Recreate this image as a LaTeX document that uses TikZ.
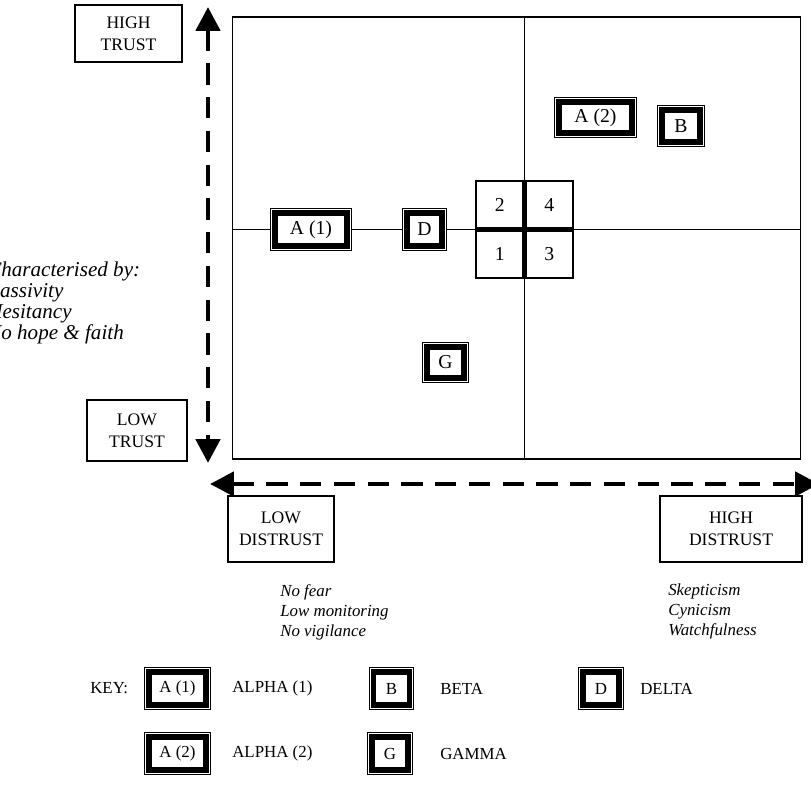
\documentclass[tikz,border=0pt]{standalone}
\usepackage{fontspec}
\setmainfont{Liberation Serif}
\usetikzlibrary{arrows.meta,positioning}

\tikzset{
  every node/.append style={font=\fontsize{12}{14.2}\selectfont},
  tag/.style={draw, line width=0.8pt, align=center, inner sep=0pt, font=\fontsize{12.5}{15.5}\selectfont},
  dbox/.style={draw, fill=white, line width=3.9pt, inner sep=0pt, minimum height=0.82cm,
    preaction={draw, line width=7.3pt}, preaction={draw, white, line width=5.9pt}},
  big/.style={font=\fontsize{14}{16}\selectfont},
  cell/.style={draw, fill=white, line width=1.8pt, minimum size=1.175cm, inner sep=0pt, big},
  axis/.style={line width=3.5pt, dash pattern=on 15pt off 9pt,
    {Triangle[length=17pt,width=17pt]}-{Triangle[length=17pt,width=17pt]}},
  note/.style={align=left, inner sep=0pt, font=\fontsize{12}{14.2}\selectfont\itshape},
}

\begin{document}
\begin{tikzpicture}[x=0.025cm, y=-0.025cm]
    \useasboundingbox (0,0) rectangle (811,789);
    % quadrant frame
    \node[draw, line width=0.8pt, minimum width=14.175cm, minimum height=11.05cm, inner sep=0pt] (frame) at (516.5,238) {};
    \coordinate (mid) at (524.5,229.5);
    \draw[line width=0.8pt] (frame.west |- mid) -- (frame.east |- mid);
    \draw[line width=0.8pt] (frame.north -| mid) -- (frame.south -| mid);

    % axes
    \coordinate (ytop) at (208,7);
    \coordinate (ybot) at (208,463);
    \coordinate (xleft) at (210,484);
    \coordinate (xright) at (819,484);
    \draw[axis] (ytop) -- (ybot);
    \draw[axis] (xleft) -- (xright);

    \node[tag, minimum width=2.675cm, minimum height=1.425cm] (hightrust) at (128.5,33.5) {HIGH\\TRUST};
    \node[tag, minimum width=2.5cm, minimum height=1.525cm] (lowtrust) at (137,430.5) {LOW\\TRUST};
    \node[tag, minimum width=2.65cm, minimum height=1.65cm] (lowdistrust) at (281,529) {LOW\\DISTRUST};
    \node[tag, minimum width=3.55cm, minimum height=1.65cm] (highdistrust) at (731,529) {HIGH\\DISTRUST};

    \node[note, font=\fontsize{15}{14.9}\selectfont\itshape, anchor=north west] (trustnote) at (-13,262) {Characterised by:\\Passivity\\Hesitancy\\No hope \& faith};
    \node[note, anchor=north west] (lownote) at (280,584) {No fear\\Low monitoring\\No vigilance};
    \node[note, anchor=north west] (highnote) at (668,584) {Skepticism\\Cynicism\\Watchfulness};

    % groups in the plane
    \node[cell, anchor=south east] (c2) at (mid) {2};
    \node[cell, anchor=south west] (c4) at (mid) {4};
    \node[cell, anchor=north east] (c1) at (mid) {1};
    \node[cell, anchor=north west] (c3) at (mid) {3};
    \node[dbox, big, minimum width=1.79cm] (alpha1) at (311,229.5) {A (1)};
    \node[dbox, big, minimum width=0.87cm] (delta) at (424.5,229.5) {D};
    \node[dbox, big, minimum width=1.82cm, minimum height=0.77cm] (alpha2) at (595.5,117.5) {A (2)};
    \node[dbox, big, minimum width=0.94cm, minimum height=0.79cm] (beta) at (681,126) {B};
    \node[dbox, big, minimum width=0.92cm, minimum height=0.77cm] (gamma) at (445.5,362.5) {G};

    % key
    \node[anchor=west, inner sep=0pt] (key) at (90,688.5) {KEY:};
    \node[dbox, minimum width=1.42cm] (kalpha1) at (177.5,688.5) {A (1)};
    \node[anchor=west, inner sep=0pt] (talpha1) at (232,688.5) {ALPHA (1)};
    \node[dbox, minimum width=0.89cm] (kbeta) at (391.5,688.5) {B};
    \node[anchor=west, inner sep=0pt] (tbeta) at (440,688.5) {BETA};
    \node[dbox, minimum width=0.89cm] (kdelta) at (601,688.5) {D};
    \node[anchor=west, inner sep=0pt] (tdelta) at (640,688.5) {DELTA};
    \node[dbox, minimum width=1.42cm] (kalpha2) at (177.5,753.5) {A (2)};
    \node[anchor=west, inner sep=0pt] (talpha2) at (232,753.5) {ALPHA (2)};
    \node[dbox, minimum width=0.89cm] (kgamma) at (390,753.5) {G};
    \node[anchor=west, inner sep=0pt] (tgamma) at (440,753.5) {GAMMA};
\end{tikzpicture}
\end{document}
